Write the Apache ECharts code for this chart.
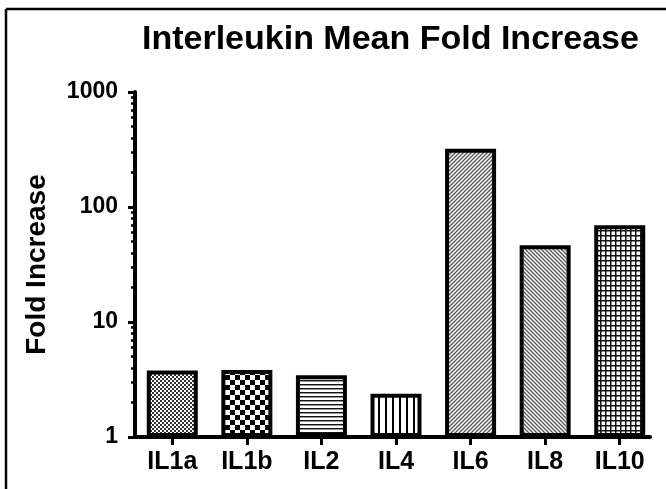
<!DOCTYPE html>
<html>
<head>
<meta charset="utf-8">
<title>Interleukin Mean Fold Increase</title>
<script src="https://cdn.jsdelivr.net/npm/echarts@6/dist/echarts.min.js"></script>
<style>
  html, body { margin: 0; padding: 0; background: #fff; }
  #chart { width: 666px; height: 489px; }
</style>
</head>
<body>
<div id="chart"></div>
<script>
// Interleukins and their mean fold increase
const categories = ['IL1a', 'IL1b', 'IL2', 'IL4', 'IL6', 'IL8', 'IL10'];
const foldIncrease = [3.78, 3.82, 3.44, 2.38, 321, 46.4, 69.3];
const yMajorTicks = [1, 10, 100, 1000];
const yMinorTicks = [2, 3, 4, 5, 6, 7, 8, 9, 20, 30, 40, 50, 60, 70, 80, 90, 200, 300, 400, 500, 600, 700, 800, 900];

const FONT = '"Liberation Sans", Arial, Helvetica, sans-serif';

// Small repeating fill tiles, one per bar
function tile(size, draw) {
  const c = document.createElement('canvas');
  c.width = size; c.height = size;
  const ctx = c.getContext('2d');
  ctx.fillStyle = '#fff';
  ctx.fillRect(0, 0, size, size);
  draw(ctx, size);
  return { image: c, repeat: 'repeat' };
}
function diag(ctx, s, dir, color, w) {
  ctx.strokeStyle = color; ctx.lineWidth = w;
  ctx.beginPath();
  if (dir > 0) {
    ctx.moveTo(-1, s + 1); ctx.lineTo(s + 1, -1);
    ctx.moveTo(-1, 1); ctx.lineTo(1, -1);
    ctx.moveTo(s - 1, s + 1); ctx.lineTo(s + 1, s - 1);
  } else {
    ctx.moveTo(-1, -1); ctx.lineTo(s + 1, s + 1);
    ctx.moveTo(s - 1, -1); ctx.lineTo(s + 1, 1);
    ctx.moveTo(-1, s - 1); ctx.lineTo(1, s + 1);
  }
  ctx.stroke();
}
const fills = [
  // fine dotted
  tile(4, (ctx) => { ctx.fillStyle = '#333'; ctx.fillRect(0, 0, 2, 2); ctx.fillRect(2, 2, 2, 2); }),
  // checkerboard
  tile(10, (ctx) => { ctx.fillStyle = '#000'; ctx.fillRect(0, 0, 5, 5); ctx.fillRect(5, 5, 5, 5); }),
  // horizontal lines
  tile(4, (ctx) => { ctx.fillStyle = '#111'; ctx.fillRect(0, 0, 4, 1); ctx.fillStyle = '#999'; ctx.fillRect(0, 1, 4, 1); }),
  // vertical lines
  tile(7, (ctx) => { ctx.fillStyle = '#000'; ctx.fillRect(0, 0, 2, 7); }),
  // forward diagonal
  tile(4, (ctx, s) => diag(ctx, s, 1, '#555', 1.3)),
  // backward diagonal
  tile(4, (ctx, s) => diag(ctx, s, -1, '#555', 1.3)),
  // square grid
  tile(5, (ctx) => { ctx.fillStyle = '#111'; ctx.fillRect(0, 0, 5, 1.5); ctx.fillRect(0, 0, 1.5, 5); })
];

const barData = foldIncrease.map((v, i) => ({
  value: v,
  itemStyle: { color: fills[i] }
}));

const chart = echarts.init(document.getElementById('chart'), null, { renderer: 'canvas' });

chart.setOption({
  animation: false,
  backgroundColor: '#fff',
  title: {
    text: 'Interleukin Mean Fold Increase',
    left: 137,
    top: 18,
    textStyle: { fontFamily: FONT, fontSize: 34, fontWeight: 'bold', color: '#000' }
  },
  graphic: [
    { type: 'line', shape: { x1: 6, y1: 9, x2: 6, y2: 489 }, style: { stroke: '#000', lineWidth: 2.5 } },
    { type: 'line', shape: { x1: 6, y1: 9, x2: 666, y2: 9 }, style: { stroke: '#000', lineWidth: 2.5 } }
  ],
  grid: [
    { left: 135, right: 9, top: 92, bottom: 52 },
    { left: 135, right: 16, top: 92, bottom: 52 }
  ],
  xAxis: [
    {
      type: 'category',
      gridIndex: 0,
      data: categories,
      axisLine: { show: false },
      axisTick: { show: true, alignWithLabel: true, length: 8, lineStyle: { color: '#000', width: 3 } },
      axisLabel: { margin: 13, fontFamily: FONT, fontSize: 25, fontWeight: 'bold', color: '#000' },
      splitLine: { show: false }
    },
    {
      type: 'value',
      gridIndex: 1,
      min: 0, max: 1,
      axisLine: { show: true, lineStyle: { color: '#000', width: 4 } },
      axisTick: { show: false },
      axisLabel: { show: false },
      splitLine: { show: false }
    }
  ],
  yAxis: [
    {
      type: 'log',
      gridIndex: 0,
      logBase: 10,
      min: 1,
      max: 1000,
      name: 'Fold Increase',
      nameLocation: 'middle',
      nameGap: 84,
      nameTextStyle: { fontFamily: FONT, fontSize: 28, fontWeight: 'bold', color: '#000' },
      axisLine: { show: true, lineStyle: { color: '#000', width: 4 } },
      axisTick: { show: true, length: 7, lineStyle: { color: '#000', width: 3 }, customValues: yMajorTicks },
      axisLabel: {
        margin: 17, fontFamily: FONT, fontSize: 23, fontWeight: 'bold', color: '#000',
        customValues: yMajorTicks,
        formatter: (v) => String(Math.round(v))
      },
      splitLine: { show: false }
    },
    {
      type: 'log',
      gridIndex: 0,
      logBase: 10,
      min: 1,
      max: 1000,
      position: 'left',
      axisLine: { show: false },
      axisTick: { show: true, length: 4, lineStyle: { color: '#000', width: 2.5 }, customValues: yMinorTicks },
      axisLabel: { show: false },
      splitLine: { show: false }
    },
    {
      type: 'value',
      gridIndex: 1,
      show: false
    }
  ],
  series: [
    {
      type: 'bar',
      xAxisIndex: 0,
      yAxisIndex: 0,
      data: barData,
      barWidth: 51,
      itemStyle: { borderColor: '#000', borderWidth: 4 }
    }
  ]
});
</script>
</body>
</html>
